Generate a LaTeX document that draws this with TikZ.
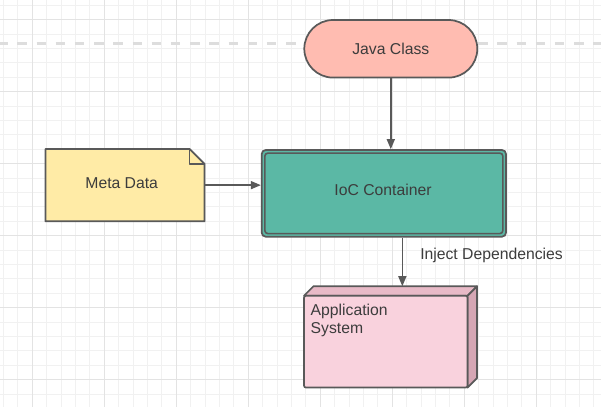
\documentclass[tikz,border=0pt]{standalone}
\usepackage{fontspec}
\setmainfont{Liberation Sans}
\usetikzlibrary{arrows.meta,calc}
\definecolor{gridminor}{HTML}{F1F1F1}
\definecolor{gridmajor}{HTML}{E3E3E3}
\definecolor{dashc}{HTML}{DDDDDD}
\definecolor{strk}{HTML}{595959}
\definecolor{txt}{HTML}{3C3C3C}
\definecolor{javafill}{HTML}{FFBCB1}
\definecolor{metafill}{HTML}{FFEBA6}
\definecolor{iocfill}{HTML}{5BB8A5}
\definecolor{appfront}{HTML}{F9D2DD}
\definecolor{apptop}{HTML}{E8BAC7}
\definecolor{appside}{HTML}{D5A6B4}
\begin{document}
\begin{tikzpicture}[x=0.75pt,y=-0.75pt,
  txtfont/.style={font=\fontsize{11.8}{13.5}\selectfont},
  box/.style={draw=strk, line width=1.3pt, text=txt, txtfont, inner sep=0pt},
  arr/.style={draw=strk, line width=1.1pt, -{Triangle[length=7.5pt,width=6pt]}},
  lbl/.style={text=txt, txtfont, inner sep=0pt}]
\useasboundingbox (0,0) rectangle (601,407);
\fill[white] (0,0) rectangle (601,407);
% grid
\foreach \i in {0,...,41} {\draw[gridminor, line width=0.75pt] ({3.5+14.4*\i},0) -- ({3.5+14.4*\i},407);}
\foreach \i in {0,...,27} {\draw[gridminor, line width=0.75pt] (0,{5.3+14.4*\i}) -- (601,{5.3+14.4*\i});}
\foreach \i in {0,...,7} {\draw[gridmajor, line width=1pt] ({32.3+72*\i},0) -- ({32.3+72*\i},407);}
\foreach \i in {0,...,5} {\draw[gridmajor, line width=1pt] (0,{19.7+72*\i}) -- (601,{19.7+72*\i});}
% dashed line
\draw[dashc, line width=2pt, dash pattern=on 7.05pt off 7.35pt] (-1.9,43.3) -- (601,43.3);
% Java Class
\node[box, fill=javafill, rounded corners=21.6pt, minimum width=129.75pt, minimum height=43.2pt] (java) at (390.8,48.8) {Java Class};
% IoC Container
\node[box, fill=iocfill, rounded corners=3pt, minimum width=183.2pt, minimum height=65pt] (ioc) at (383.85,193.35) {};
\draw[strk, line width=1.2pt, rounded corners=2.2pt] ([xshift=3pt,yshift=3pt]ioc.south west) rectangle ([xshift=-3pt,yshift=-3pt]ioc.north east);
\node[lbl] (ioctext) at (383,190) {IoC Container};
% Meta Data
\node[lbl, minimum width=119pt, minimum height=53.8pt] (meta) at (125,185.15) {};
\draw[strk, line width=1.3pt, fill=metafill, line join=round]
  (meta.south west) -- (meta.north west) -- ([xshift=-11.25pt]meta.north east)
  -- ([yshift=-11.25pt]meta.north east) -- (meta.south east) -- cycle;
\draw[strk, line width=1.1pt, line join=round]
  ([xshift=-11.25pt]meta.north east) -- ([xshift=-11.25pt,yshift=-11.25pt]meta.north east) -- ([yshift=-11.25pt]meta.north east);
\node[lbl] (metatext) at (121.7,183.3) {Meta Data};
% Application System
\node[inner sep=0pt, minimum width=122.25pt, minimum height=68.5pt] (app) at (385.8,341.65) {};
\draw[strk, line width=1.3pt, fill=apptop, line join=round]
  (app.north west) -- ([xshift=7.1pt,yshift=7.1pt]app.north west) -- ([xshift=7.1pt,yshift=7.1pt]app.north east) -- (app.north east) -- cycle;
\draw[strk, line width=1.3pt, fill=appside, line join=round]
  (app.north east) -- ([xshift=7.1pt,yshift=7.1pt]app.north east) -- ([xshift=7.1pt,yshift=7.1pt]app.south east) -- (app.south east) -- cycle;
\draw[strk, line width=1.3pt, fill=appfront, rounded corners=1.5pt] (app.south west) rectangle (app.north east);
\node[lbl, anchor=north west, align=left] (apptext) at ([xshift=4.8pt,yshift=-6.4pt]app.north west) {Application\\System};
% connectors
\draw[arr] (java.south) -- (java.south |- ioc.north);
\draw[arr] (meta.east) -- (meta.east -| ioc.west);
\draw[arr] ($(ioc.south)+(18.5,0)$) -- ($(ioc.south |- app.north)+(18.5,-9.5)$);
\node[lbl, anchor=west] (inject) at (420,255) {Inject Dependencies};
\end{tikzpicture}
\end{document}
